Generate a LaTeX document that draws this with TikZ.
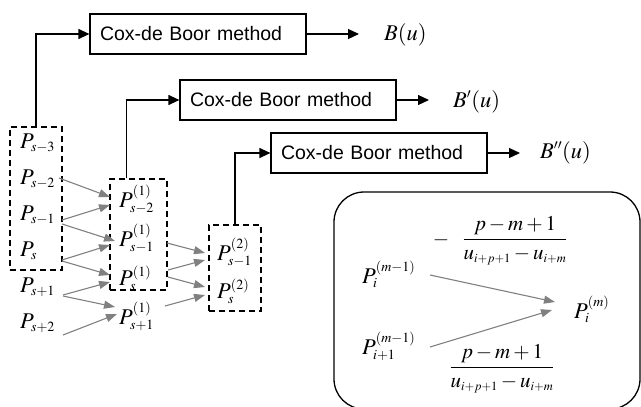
\documentclass[tikz,border=0pt]{standalone}
\usepackage{mathptmx}
\usepackage[no-math]{fontspec}
\newfontfamily\coxfont{Liberation Sans}
\DeclareMathSizes{22.5}{22.5}{14}{11}
\DeclareMathSizes{21}{21}{12.5}{9}
\usetikzlibrary{arrows.meta,calc}
\begin{document}
\begin{tikzpicture}[x=1pt,y=-1pt,
  coxbox/.style={draw, line width=1.2pt, minimum width=216pt, minimum height=40pt,
    text width=196pt, inner xsep=10pt, inner ysep=0pt, align=left,
    font=\coxfont\fontsize{19.5}{22}\selectfont},
  lbl/.style={inner sep=0pt, anchor=base west, font=\fontsize{22.5}{26}\selectfont},
  frac/.style={inner sep=0pt, anchor=base, font=\fontsize{21}{25}\selectfont},
  dbox/.style={draw, line width=1.2pt, dash pattern=on 6pt off 4pt, inner sep=0pt},
  blk/.style={line width=1.2pt, -{Triangle[length=11pt,width=10pt]}},
  gry/.style={gray, line width=1.1pt, -{Triangle[length=11pt,width=8pt]}}
]
\useasboundingbox (0,0) rectangle (641,407);

% Cox-de Boor evaluation boxes and their outputs
\node[coxbox] (c1) at (198,34)  {Cox-de Boor method};
\node[coxbox] (c2) at (288,100) {Cox-de Boor method};
\node[coxbox] (c3) at (379,153) {Cox-de Boor method};
\node[lbl] (bu)  at (384,40)  {$B(u)$};
\node[lbl] (bd1) at (453,107) {$B'(u)$};
\node[lbl] (bd2) at (540,158) {$B''(u)$};
\draw[blk] (c1.east) -- ($(c1.east -| bu.west)+(-25,0)$);
\draw[blk] (c2.east) -- ($(c2.east -| bd1.west)+(-24,0)$);
\draw[blk] (c3.east) -- ($(c3.east -| bd2.west)+(-20,0)$);

% control point columns
\node[dbox, minimum width=52pt, minimum height=143pt] (da) at (36,198.5) {};
\node[dbox, minimum width=57pt, minimum height=111pt] (db) at (138.5,234.5) {};
\node[dbox, minimum width=52pt, minimum height=86pt]  (dc) at (235,268) {};

\draw[blk] (da.north) |- (c1.west);
\draw[blk] ([xshift=-12pt]db.north) |- (c2.west);
\draw[blk] (dc.north) |- (c3.west);

\node[lbl] (ps3) at (20,148) {$P_{s-3}$};
\node[lbl] (ps2) at (20,184) {$P_{s-2}$};
\node[lbl] (ps1) at (20,220) {$P_{s-1}$};
\node[lbl] (ps0) at (20,256) {$P_{s}$};
\node[lbl] (pp1) at (20,292) {$P_{s+1}$};
\node[lbl] (pp2) at (20,328) {$P_{s+2}$};

\node[lbl] (q2)  at (119,207) {$P_{s-2}^{(1)}$};
\node[lbl] (q1)  at (119,246) {$P_{s-1}^{(1)}$};
\node[lbl] (q0)  at (119,285) {$P_{s}^{(1)}$};
\node[lbl] (qp1) at (119,324) {$P_{s+1}^{(1)}$};

\node[lbl] (r1) at (217,260) {$P_{s-1}^{(2)}$};
\node[lbl] (r0) at (217,298) {$P_{s}^{(2)}$};

% first derivative points
\draw[gry] ([shift={(39,-6)}]ps2.base west) -- ([shift={(-9,-10)}]q2.base west);
\draw[gry] ([shift={(42,0)}]ps1.base west)  -- ([shift={(-9,-2)}]q2.base west);
\draw[gry] ([shift={(42,4)}]ps1.base west)  -- ([shift={(-4,-5)}]q1.base west);
\draw[gry] ([shift={(42,4)}]ps0.base west)  -- ([shift={(-9,-1)}]q1.base west);
\draw[gry] ([shift={(42,5)}]ps0.base west)  -- ([shift={(-9,-10)}]q0.base west);
\draw[gry] ([shift={(43,3)}]pp1.base west)  -- ([shift={(-9,-3)}]q0.base west);
\draw[gry] ([shift={(43,4)}]pp1.base west)  -- ([shift={(-4,-17)}]qp1.base west);
\draw[gry] ([shift={(43,7)}]pp2.base west)  -- ([shift={(-2,-10)}]qp1.base west);

% second derivative points
\draw[gry] ([shift={(48,-3)}]q1.base west)   -- ([shift={(-12,-7)}]r1.base west);
\draw[gry] ([shift={(49,-15)}]q0.base west)  -- ([shift={(-12,0)}]r1.base west);
\draw[gry] ([shift={(49,-8)}]q0.base west)   -- ([shift={(-12,-11)}]r0.base west);
\draw[gry] ([shift={(46,-18)}]qp1.base west) -- ([shift={(-12,-3)}]r0.base west);

% recurrence legend
\node[draw, line width=1.3pt, rounded corners=30pt, minimum width=306pt,
      minimum height=217pt, inner sep=0pt] (legend) at (487,300.5) {};
\node[lbl] (pa) at (362,283) {$P_i^{(m-1)}$};
\node[lbl] (pb) at (362,354) {$P_{i+1}^{(m-1)}$};
\node[lbl] (pm) at (574,318) {$P_i^{(m)}$};
\node[frac] (mn) at (441,245) {$-$};
\node[frac] (f1) at (515,245) {$\displaystyle\frac{p-m+1}{u_{i+p+1}-u_{i+m}}$};
\node[frac] (f2) at (502,373) {$\displaystyle\frac{p-m+1}{u_{i+p+1}-u_{i+m}}$};
\draw[gry] ([shift={(68,-8)}]pa.base west) -- ([shift={(-19,-16)}]pm.base west);
\draw[gry] ([shift={(68,-7)}]pb.base west) -- ([shift={(-22,-8)}]pm.base west);
\end{tikzpicture}
\end{document}
